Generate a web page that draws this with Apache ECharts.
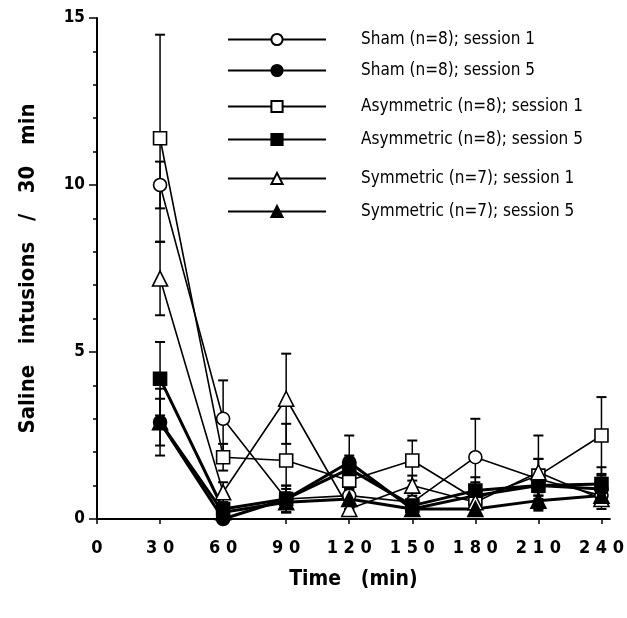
<!DOCTYPE html>
<html>
<head>
<meta charset="utf-8">
<script src="https://cdn.jsdelivr.net/npm/echarts@6/dist/echarts.min.js"></script>
<style>
  html, body { margin: 0; padding: 0; background: #fff; }
  #chart { width: 627px; height: 618px; }
</style>
</head>
<body>
<div id="chart"></div>
<script>
const times = [30, 60, 90, 120, 150, 180, 210, 240]
const xTickLabels = ['0', '3 0', '6 0', '9 0', '1 2 0', '1 5 0', '1 8 0', '2 1 0', '2 4 0']

const names = [
  'Sham (n=8); session 1',
  'Sham (n=8); session 5',
  'Asymmetric (n=8); session 1',
  'Asymmetric (n=8); session 5',
  'Symmetric (n=7); session 1',
  'Symmetric (n=7); session 5'
]

const shamS1 = [10.0, 3.0, 0.6, 0.7, 0.5, 1.85, 1.2, 0.7]
const shamS5 = [2.9, 0.0, 0.6, 1.7, 0.3, 0.7, 1.0, 0.9]
const asymS1 = [11.4, 1.85, 1.75, 1.15, 1.75, 0.6, 1.3, 2.5]
const asymS5 = [4.2, 0.3, 0.6, 1.5, 0.4, 0.85, 1.0, 1.05]
const symS1 = [7.2, 0.8, 3.6, 0.3, 1.0, 0.5, 1.4, 0.6]
const symS5 = [2.9, 0.2, 0.5, 0.6, 0.3, 0.3, 0.55, 0.7]

const shamS1Err = [0.7, 1.15, 0.4, 0.4, 0.3, 1.15, 0.6, 0.3]
const shamS5Err = [0.7, 0.1, 0.3, 0.8, 0.2, 0.4, 0.3, 0.4]
const asymS1Err = [3.1, 0.4, 1.1, 0.3, 0.6, 0.4, 0.5, 1.15]
const asymS5Err = [1.1, 0.2, 0.4, 0.4, 0.2, 0.4, 0.3, 0.5]
const symS1Err = [1.1, 0.3, 1.35, 0.2, 0.3, 0.3, 1.1, 0.3]
const symS5Err = [1.0, 0.2, 0.3, 0.3, 0.2, 0.2, 0.3, 0.3]

const values = [shamS1, shamS5, asymS1, asymS5, symS1, symS5]
const errors = [shamS1Err, shamS5Err, asymS1Err, asymS5Err, symS1Err, symS5Err]
const symbols = ['circle', 'circle', 'rect', 'rect', 'triangle', 'triangle']
const filled = [false, true, false, true, false, true]
const legendRows = [33, 64, 100, 133, 172, 205]

const font = '"Liberation Sans Narrow", "DejaVu Sans Condensed", sans-serif'

const chart = echarts.init(document.getElementById('chart'), null, { renderer: 'canvas' })

const errorBar = (params, api) => {
  const x = api.value(0)
  const top = api.coord([x, api.value(2)])
  const bottom = api.coord([x, api.value(1)])
  const half = 5
  const style = { stroke: '#000', lineWidth: 2 }
  return {
    type: 'group',
    children: [
      { type: 'line', shape: { x1: top[0], y1: top[1], x2: bottom[0], y2: bottom[1] }, style: { stroke: '#000', lineWidth: 1.5 } },
      { type: 'line', shape: { x1: top[0] - half, y1: top[1], x2: top[0] + half, y2: top[1] }, style },
      { type: 'line', shape: { x1: bottom[0] - half, y1: bottom[1], x2: bottom[0] + half, y2: bottom[1] }, style }
    ]
  }
}

const series = []
values.forEach((vals, i) => {
  series.push({
    type: 'custom',
    renderItem: errorBar,
    data: times.map((t, j) => [t, Math.max(0, vals[j] - errors[i][j]), vals[j] + errors[i][j]]),
    z: 1,
    silent: true
  })
})
values.forEach((vals, i) => {
  series.push({
    name: names[i],
    type: 'line',
    data: times.map((t, j) => [t, vals[j]]),
    symbol: symbols[i],
    symbolSize: symbols[i] === 'triangle' ? 15 : 13,
    showAllSymbol: true,
    lineStyle: { color: '#000', width: filled[i] ? 3 : 1.6 },
    itemStyle: {
      color: filled[i] ? '#000' : '#fff',
      borderColor: '#000',
      borderWidth: 1.6
    },
    z: 3
  })
})

const legends = names.map((name, i) => ({
  data: [name],
  left: 222,
  top: legendRows[i] - 7,
  itemWidth: 98,
  itemHeight: 14,
  selectedMode: false,
  textStyle: {
    fontFamily: font,
    fontSize: 17,
    color: '#000',
    padding: [0, 0, 0, 30]
  }
}))

chart.setOption({
  animation: false,
  backgroundColor: '#fff',
  legend: legends,
  grid: { left: 97, right: 12, top: 18, bottom: 99 },
  xAxis: {
    type: 'value',
    min: 0,
    max: 244,
    interval: 30,
    name: 'Time   (min)',
    nameLocation: 'middle',
    nameGap: 50,
    nameTextStyle: { fontFamily: font, fontSize: 21, fontWeight: 'bold', color: '#000' },
    axisLine: { lineStyle: { color: '#000', width: 2 } },
    axisTick: { show: true, length: 5, lineStyle: { color: '#000', width: 1.5 } },
    axisLabel: {
      showMaxLabel: false,
      margin: 20,
      fontFamily: font,
      fontSize: 18,
      fontWeight: 'bold',
      color: '#000',
      formatter: v => xTickLabels[Math.round(v / 30)] ?? ''
    },
    splitLine: { show: false }
  },
  yAxis: {
    type: 'value',
    min: 0,
    max: 15,
    interval: 5,
    name: 'Saline   intusions   /   30   min',
    nameLocation: 'middle',
    nameGap: 58,
    nameTextStyle: { fontFamily: font, fontSize: 22, fontWeight: 'bold', color: '#000' },
    axisLine: { show: true, lineStyle: { color: '#000', width: 2 } },
    axisTick: { show: true, length: 8, lineStyle: { color: '#000', width: 1.5 } },
    minorTick: { show: true, splitNumber: 5, length: 4, lineStyle: { color: '#000', width: 1.5 } },
    axisLabel: {
      margin: 12,
      fontFamily: font,
      fontSize: 17,
      fontWeight: 'bold',
      color: '#000'
    },
    splitLine: { show: false }
  },
  series
})
</script>
</body>
</html>
